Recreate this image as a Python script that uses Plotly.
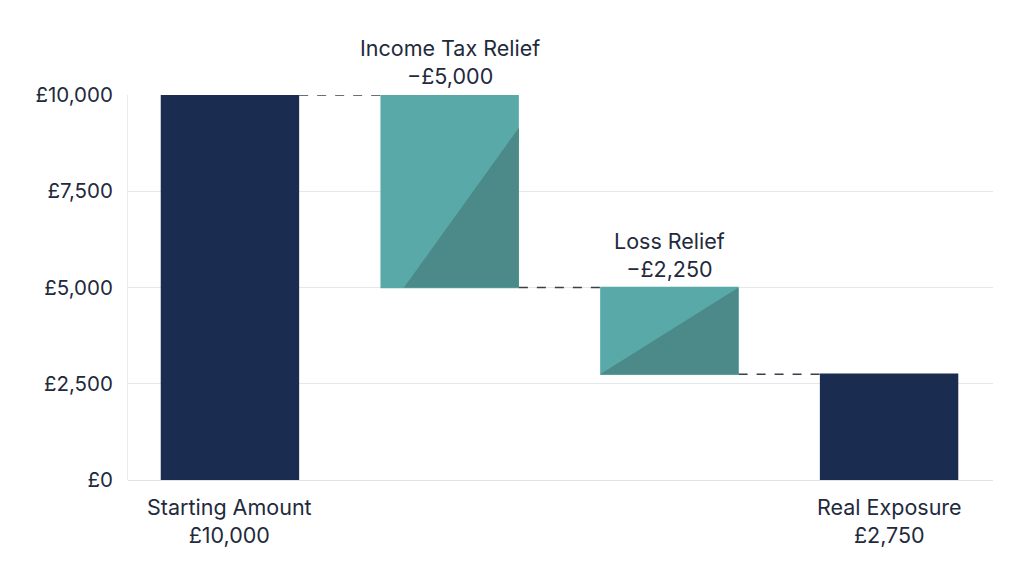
import plotly.graph_objects as go

categories = ["Starting Amount", "Income Tax Relief", "Loss Relief", "Real Exposure"]
measures = ["absolute", "relative", "relative", "total"]
values = [10000, -5000, -2250, 0]
value_labels = ["£10,000", "−£5,000", "−£2,250", "£2,750"]
tick_vals = [0, 2500, 5000, 7500, 10000]
tick_text = ["£0", "£2,500", "£5,000", "£7,500", "£10,000"]

NAVY = "#1a2c50"
TEAL = "#58a9a8"
TEAL_DARK = "#4b8a88"
TEXT = "#1f2a3d"
FONT = "Inter"
BAR_W = 0.63

xs = list(range(len(categories)))

fig = go.Figure()
fig.add_trace(go.Waterfall(
    x=xs, y=values, measure=measures, width=[BAR_W] * len(xs),
    totals=dict(marker=dict(color=NAVY)),
    decreasing=dict(marker=dict(color=TEAL)),
    increasing=dict(marker=dict(color=TEAL)),
    connector=dict(mode="between", line=dict(color="#3a3f48", width=1.5, dash="dash")),
    showlegend=False, hoverinfo="skip",
))

# running levels for the floating bars
levels = []
run = 0
for m, v in zip(measures, values):
    if m == "absolute":
        start, run = 0, v
    elif m == "relative":
        start, run = run, run + v
    else:
        start = 0
    levels.append((start, run))

# darker diagonal shading inside decreasing bars (style)
shade_params = {1: (0.17, 0.83), 2: (0.0, 1.0)}
for i, (fx, fy) in shade_params.items():
    top, bottom = levels[i][0], levels[i][1]
    xl, xr = i - BAR_W / 2, i + BAR_W / 2
    fig.add_trace(go.Scatter(
        x=[xl + fx * BAR_W, xr, xr, xl + fx * BAR_W],
        y=[bottom, bottom, bottom + fy * (top - bottom), bottom],
        mode="lines", fill="toself", fillcolor=TEAL_DARK,
        line=dict(width=0), showlegend=False, hoverinfo="skip",
    ))

# labels
for i, (cat, lab) in enumerate(zip(categories, value_labels)):
    if measures[i] == "relative":
        fig.add_annotation(x=i, y=levels[i][0], text=f"{cat}<br>{lab}", showarrow=False,
                           yanchor="bottom", yshift=4, font=dict(family=FONT, size=21.5, color=TEXT))
    else:
        fig.add_annotation(x=i, y=0, text=f"{cat}<br>{lab}", showarrow=False,
                           yanchor="top", yshift=-12, font=dict(family=FONT, size=21.5, color=TEXT))

fig.update_layout(
    width=1024, height=572,
    margin=dict(l=128, r=31, t=95, b=92),
    paper_bgcolor="white", plot_bgcolor="white",
    font=dict(family=FONT, size=21, color=TEXT),
    xaxis=dict(range=[-0.464, 3.473], showticklabels=False, showgrid=False,
               zeroline=False, showline=False, fixedrange=True),
    yaxis=dict(range=[0, 10000], tickvals=tick_vals, ticktext=tick_text,
               showgrid=True, gridcolor="#e5e7ea", gridwidth=1,
               zeroline=True, zerolinecolor="#e0e2e5", zerolinewidth=1,
               showline=True, linecolor="#e8eaec", linewidth=1,
               ticks="outside", ticklen=10, tickcolor="white",
               tickfont=dict(family=FONT, size=20.5, color=TEXT)),
)

fig.write_html("out.html")
